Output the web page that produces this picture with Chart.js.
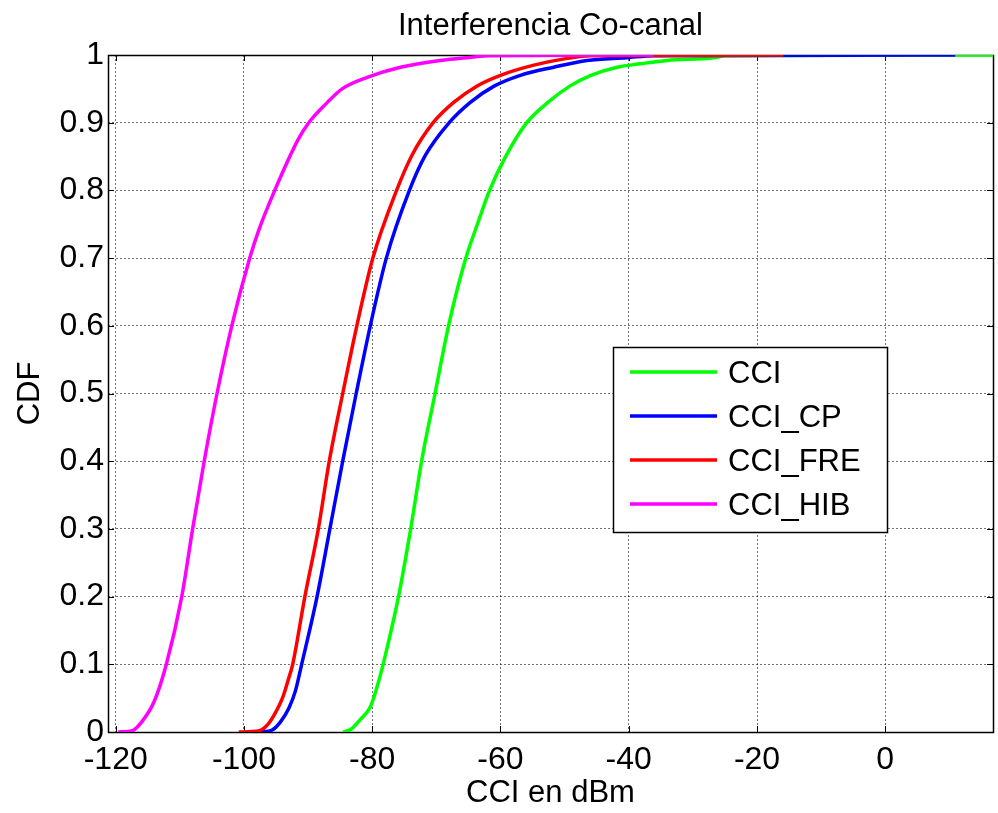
<!DOCTYPE html>
<html>
<head>
<meta charset="utf-8">
<style>
  html, body { margin: 0; padding: 0; background: #fff; }
  #wrap { width: 998px; height: 813px; }
</style>
</head>
<body>
<div id="wrap"><canvas id="cdfChart" width="998" height="813"></canvas></div>
<script src="https://cdn.jsdelivr.net/npm/chart.js@4/dist/chart.umd.min.js"></script>
<script>
const ctx = document.getElementById('cdfChart').getContext('2d');

// textos de la figura
const chartTitle = 'Interferencia Co-canal';
const xTitle = 'CCI en dBm';
const yTitle = 'CDF';
const seriesNames = ['CCI', 'CCI_CP', 'CCI_FRE', 'CCI_HIB'];
const seriesColors = ['#00ff00', '#0000ff', '#ff0000', '#ff00ff'];

// ejes
const xTicks = [-120, -100, -80, -60, -40, -20, 0];
const yTicks = [0, 0.1, 0.2, 0.3, 0.4, 0.5, 0.6, 0.7, 0.8, 0.9, 1];
const xMin = -121.2;
const xMax = 16.8;

// curvas CDF (x en dBm, y = probabilidad acumulada)
const cciX = [-84.5, -83.3, -81.9, -80.3, -79.3, -78.3, -75.9, -74.0, -72.3, -70.2, -68.1, -65.4, -63.6, -61.7, -59.2, -55.9, -52.6, -49.2, -45.9, -41.8, -38.2, -34.0, -26.7, -25.0, 16.8];
const cciY = [0, 0.004, 0.018, 0.037, 0.065, 0.1, 0.2, 0.3, 0.4, 0.5, 0.6, 0.7, 0.75, 0.8, 0.85, 0.9, 0.93, 0.954, 0.970, 0.982, 0.987, 0.992, 0.996, 0.999, 1];

const cpX = [-97.5, -95.6, -94.3, -93.0, -92.0, -91.0, -88.6, -86.6, -84.6, -82.5, -80.3, -77.8, -74.2, -71.7, -68.0, -64.7, -61.0, -56.9, -51.7, -46.5, -40.3, -36.1, 10.9];
const cpY = [0, 0.003, 0.015, 0.035, 0.06, 0.1, 0.2, 0.3, 0.4, 0.5, 0.6, 0.7, 0.8, 0.852, 0.9, 0.930, 0.954, 0.970, 0.982, 0.992, 0.996, 0.999, 1];

const freX = [-100.8, -97.6, -96.2, -95.0, -94.0, -93.0, -92.4, -90.5, -88.4, -86.7, -84.6, -82.4, -79.9, -76.2, -73.8, -70.5, -67.3, -63.7, -60.0, -54.8, -49.6, -46.0, -15.9];
const freY = [0, 0.002, 0.012, 0.03, 0.05, 0.08, 0.1, 0.2, 0.3, 0.4, 0.5, 0.6, 0.7, 0.8, 0.852, 0.9, 0.930, 0.954, 0.970, 0.985, 0.995, 0.999, 1];

const hibX = [-119.6, -117.4, -116.1, -114.0, -112.1, -109.7, -108.0, -106.2, -104.2, -101.9, -99.1, -97.7, -95.2, -91.5, -89.9, -87.0, -84.7, -80.8, -75.6, -69.4, -64.2, -62.0, -36.1];
const hibY = [0, 0.002, 0.013, 0.045, 0.1, 0.2, 0.3, 0.4, 0.5, 0.6, 0.7, 0.741, 0.8, 0.876, 0.9, 0.93, 0.950, 0.967, 0.982, 0.992, 0.997, 0.999, 1];

const seriesX = [cciX, cpX, freX, hibX];
const seriesY = [cciY, cpY, freY, hibY];

const FONT = '"Liberation Sans", Arial, Helvetica, sans-serif';
const TEXT_SIZE = 31;
const TICK_SIZE = 32;

// titulo centrado sobre el area de la grafica
const titlePlugin = {
    id: 'matlabTitle',
    afterDraw(chart) {
        const c = chart.ctx;
        const a = chart.chartArea;
        c.save();
        c.fillStyle = '#000';
        c.font = TEXT_SIZE + 'px ' + FONT;
        c.textAlign = 'center';
        c.textBaseline = 'middle';
        c.fillText(chartTitle, (a.left + a.right) / 2, 26);
        c.restore();
    }
};

// marco del eje y marcas de tick hacia adentro
const framePlugin = {
    id: 'matlabFrame',
    beforeDatasetsDraw(chart) {
        const c = chart.ctx;
        const a = chart.chartArea;
        const xs = chart.scales.x;
        const ys = chart.scales.y;
        const tl = 6;
        c.save();
        c.strokeStyle = '#000';
        c.lineWidth = 1;
        xTicks.forEach(v => {
            const px = Math.round(xs.getPixelForValue(v)) + 0.5;
            c.beginPath();
            c.moveTo(px, a.bottom); c.lineTo(px, a.bottom - tl);
            c.moveTo(px, a.top); c.lineTo(px, a.top + tl);
            c.stroke();
        });
        yTicks.forEach(v => {
            const py = Math.round(ys.getPixelForValue(v)) + 0.5;
            c.beginPath();
            c.moveTo(a.left, py); c.lineTo(a.left + tl, py);
            c.moveTo(a.right, py); c.lineTo(a.right - tl, py);
            c.stroke();
        });
        c.lineWidth = 1.5;
        c.strokeRect(Math.round(a.left) + 0.5, Math.round(a.top) + 0.5,
            Math.round(a.right - a.left), Math.round(a.bottom - a.top));
        c.restore();
    }
};

// leyenda dentro del area, como en MATLAB
const legendPlugin = {
    id: 'matlabLegend',
    afterDraw(chart) {
        const c = chart.ctx;
        const bx = 613, by = 347, bw = 274, bh = 185;
        c.save();
        c.fillStyle = '#fff';
        c.fillRect(bx, by, bw, bh);
        c.strokeStyle = '#000';
        c.lineWidth = 1.5;
        c.strokeRect(bx + 0.5, by + 0.5, bw, bh);
        c.font = TEXT_SIZE + 'px ' + FONT;
        c.textAlign = 'left';
        c.textBaseline = 'middle';
        seriesNames.forEach((name, i) => {
            const y = by + 25 + i * 44;
            c.strokeStyle = seriesColors[i];
            c.lineWidth = 3.5;
            c.beginPath();
            c.moveTo(bx + 17, y);
            c.lineTo(bx + 104, y);
            c.stroke();
            c.fillStyle = '#000';
            c.fillText(name, bx + 115, y + 2);
        });
        c.restore();
    }
};

const drawOrder = [3, 2, 1, 0];

const datasets = seriesNames.map((name, i) => ({
    label: name,
    data: seriesX[i].map((x, j) => ({ x: x, y: seriesY[i][j] })),
    borderColor: seriesColors[i],
    backgroundColor: seriesColors[i],
    borderWidth: 3.5,
    pointRadius: 0,
    fill: false,
    cubicInterpolationMode: 'monotone',
    order: drawOrder[i]
}));

const gridStyle = {
    color: 'rgba(0,0,0,0.55)',
    lineWidth: 1,
    drawTicks: false
};

const cdfChart = new Chart(ctx, {
    type: 'line',
    data: { datasets: datasets },
    options: {
        responsive: false,
        animation: false,
        devicePixelRatio: 1,
        layout: { padding: { top: 55, right: 5, left: 0, bottom: 0 } },
        plugins: {
            legend: { display: false },
            title: { display: false },
            tooltip: { enabled: false }
        },
        scales: {
            x: {
                type: 'linear',
                min: xMin,
                max: xMax,
                grid: gridStyle,
                border: { display: false, dash: [2, 2] },
                afterBuildTicks: s => { s.ticks = xTicks.map(v => ({ value: v })); },
                afterFit: s => { s.height = 81; },
                ticks: {
                    color: '#000',
                    padding: 9,
                    maxRotation: 0,
                    font: { family: FONT, size: TICK_SIZE },
                    callback: v => String(v)
                },
                title: {
                    display: true,
                    text: xTitle,
                    color: '#000',
                    font: { family: FONT, size: TEXT_SIZE },
                    padding: { top: 0, bottom: 1 }
                }
            },
            y: {
                min: 0,
                max: 1,
                grid: gridStyle,
                border: { display: false, dash: [2, 2] },
                afterBuildTicks: s => { s.ticks = yTicks.map(v => ({ value: v })); },
                afterFit: s => { s.width = 108; },
                ticks: {
                    color: '#000',
                    padding: 4,
                    font: { family: FONT, size: TICK_SIZE },
                    callback: v => String(Math.round(v * 10) / 10)
                },
                title: {
                    display: true,
                    text: yTitle,
                    color: '#000',
                    font: { family: FONT, size: TEXT_SIZE },
                    padding: { top: 12, bottom: 0 }
                }
            }
        }
    },
    plugins: [titlePlugin, framePlugin, legendPlugin]
});
</script>
</body>
</html>
